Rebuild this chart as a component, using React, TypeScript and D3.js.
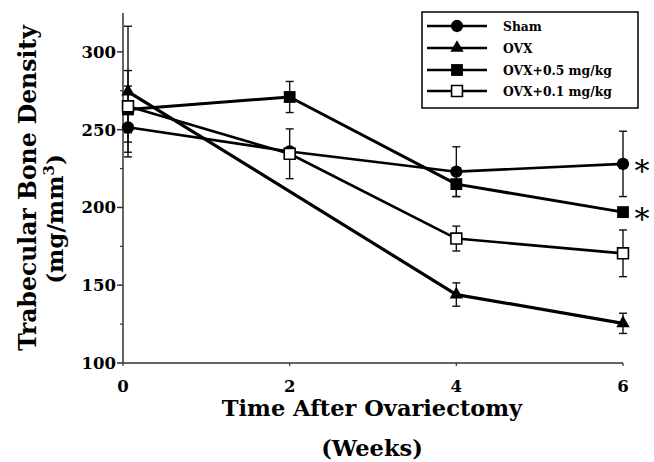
import React from 'react';
import * as d3 from 'd3';

// ---- data ----
const weeks = [0, 2, 4, 6];
const shamMean = [251.5, 236, 223, 228];
const shamErr = [16, 0, 16, 21];
const ovxWeeks = [0, 4, 6];
const ovxMean = [274.5, 144, 125.5];
const ovxErr = [42, 7.5, 6.5];
const hiMean = [263, 271, 215, 197];
const hiErr = [15, 10, 8, 2];
const loMean = [265, 234.5, 180, 170.5];
const loErr = [23, 16, 8, 15];
const seriesNames = ['Sham', 'OVX', 'OVX+0.5 mg/kg', 'OVX+0.1 mg/kg'];
const significant = ['Sham', 'OVX+0.5 mg/kg'];
const yTicks = [100, 150, 200, 250, 300];
const yMinor = [125, 175, 225, 275];
const xTicks = [0, 2, 4, 6];

const W = 654, H = 462;
const FONT = "'DejaVu Serif', 'Liberation Serif', serif";

type Pt = { w: number; m: number; e: number };
const mk = (ws: number[], ms: number[], es: number[]): Pt[] =>
  ws.map((w, i) => ({ w, m: ms[i], e: es[i] }));

const series = [
  { name: seriesNames[0], shape: 'circle', fill: '#000', pts: mk(weeks, shamMean, shamErr), lw: 2.6 },
  { name: seriesNames[1], shape: 'triangle', fill: '#000', pts: mk(ovxWeeks, ovxMean, ovxErr), lw: 3.2 },
  { name: seriesNames[2], shape: 'square', fill: '#000', pts: mk(weeks, hiMean, hiErr), lw: 3 },
  { name: seriesNames[3], shape: 'square', fill: '#fff', pts: mk(weeks, loMean, loErr), lw: 2.6 },
];

const x = d3.scaleLinear().domain([0, 6]).range([123, 623]);
const y = d3.scaleLinear().domain([100, 325]).range([363, 13]);
// first time point is drawn just right of the axis, as in the reference
const px = (w: number) => x(w === 0 ? 0.06 : w);

const symPath = (shape: string) => {
  if (shape === 'circle') return d3.symbol(d3.symbolCircle, 118)()!;
  if (shape === 'triangle') return d3.symbol(d3.symbolTriangle, 78)()!;
  return d3.symbol(d3.symbolSquare, 140)()!;
};

function Marker({ shape, fill, cx, cy }: { shape: string; fill: string; cx: number; cy: number }) {
  const open = fill !== '#000';
  const d = open ? d3.symbol(d3.symbolSquare, 118)()! : symPath(shape);
  return (
    <path
      d={d}
      transform={`translate(${cx},${cy})`}
      fill={fill}
      stroke="#000"
      strokeWidth={open ? 1.6 : 0}
    />
  );
}

export default function App() {
  const line = d3.line<Pt>().x(p => px(p.w)).y(p => y(p.m));
  const legendRows = [26, 48, 70, 91];
  return (
    <svg width={W} height={H} style={{ position: 'absolute', left: 0, top: 0, background: '#fff' }}
      fontFamily={FONT}>
      <rect width={W} height={H} fill="#fff" />
      {/* axes */}
      <line x1={x(0)} x2={x(0)} y1={y(325)} y2={y(100)} stroke="#333" strokeWidth={1.5} />
      <line x1={x(0)} x2={x(6)} y1={y(100)} y2={y(100)} stroke="#333" strokeWidth={1.5} />
      {yTicks.map(t => (
        <g key={t}>
          <line x1={x(0) - 6} x2={x(0)} y1={y(t)} y2={y(t)} stroke="#333" strokeWidth={1.5} />
          <text x={x(0) - 7} y={y(t)} dy="0.36em" textAnchor="end" fontSize={16.5} fontWeight="bold">{t}</text>
        </g>
      ))}
      {yMinor.map(t => (
        <line key={t} x1={x(0) - 3} x2={x(0)} y1={y(t)} y2={y(t)} stroke="#333" strokeWidth={1.2} />
      ))}
      {xTicks.map(t => (
        <g key={t}>
          <line x1={x(t)} x2={x(t)} y1={y(100)} y2={y(100) + 3} stroke="#333" strokeWidth={1.2} />
          <text x={x(t)} y={392} textAnchor="middle" fontSize={16.5} fontWeight="bold">{t}</text>
        </g>
      ))}
      {/* axis titles */}
      <text x={372} y={416} textAnchor="middle" fontSize={22.5} fontWeight="bold">Time After Ovariectomy</text>
      <text x={372} y={456} textAnchor="middle" fontSize={22.5} fontWeight="bold">(Weeks)</text>
      <text transform="translate(36,188) rotate(-90)" textAnchor="middle" fontSize={23.5} fontWeight="bold">Trabecular Bone Density</text>
      <text transform="translate(63,219) rotate(-90)" textAnchor="middle" fontSize={23} fontWeight="bold">
        (mg/mm<tspan fontSize={15} dy={-9}>3</tspan><tspan dy={9}>)</tspan>
      </text>
      {/* lines */}
      {series.map(s => (
        <path key={s.name} d={line(s.pts)!} fill="none" stroke="#000" strokeWidth={s.lw} strokeLinejoin="round" />
      ))}
      {/* error bars */}
      {series.map(s => s.pts.filter(p => p.e > 0).map((p, i) => (
        <g key={s.name + i} stroke="#111" strokeWidth={1.4}>
          <line x1={px(p.w)} x2={px(p.w)} y1={y(p.m - p.e)} y2={y(p.m + p.e)} />
          <line x1={px(p.w) - 4} x2={px(p.w) + 4} y1={y(p.m - p.e)} y2={y(p.m - p.e)} />
          <line x1={px(p.w) - 4} x2={px(p.w) + 4} y1={y(p.m + p.e)} y2={y(p.m + p.e)} />
        </g>
      )))}
      {/* markers */}
      {series.map(s => s.pts.map((p, i) => (
        <Marker key={s.name + 'm' + i} shape={s.shape} fill={s.fill} cx={px(p.w)} cy={y(p.m)} />
      )))}
      {/* significance asterisks */}
      {series.filter(s => significant.includes(s.name)).map(s => {
        const last = s.pts[s.pts.length - 1];
        return (
          <text key={s.name + 'ast'} x={px(last.w) + 19} y={y(last.m) + 17} textAnchor="middle" fontSize={30}>*</text>
        );
      })}
      {/* legend */}
      <rect x={422} y={12} width={216} height={96} fill="#fff" stroke="#000" strokeWidth={1.5} />
      {series.map((s, i) => (
        <g key={s.name + 'leg'}>
          <line x1={427} x2={487} y1={legendRows[i]} y2={legendRows[i]} stroke="#000" strokeWidth={2.6} />
          <Marker shape={s.shape} fill={s.fill} cx={457} cy={legendRows[i]} />
          <text x={503} y={legendRows[i] + 4.5} fontSize={12.3} fontWeight="bold">{s.name}</text>
        </g>
      ))}
    </svg>
  );
}
